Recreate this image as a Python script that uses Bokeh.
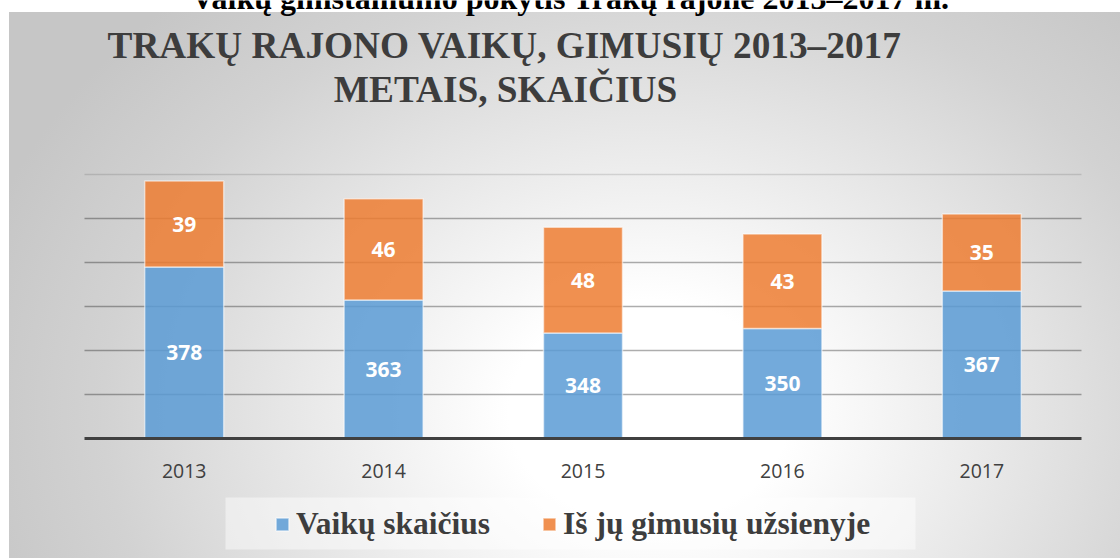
from bokeh.plotting import figure
from bokeh.models import Range1d, ColumnDataSource, Legend, LegendItem
from bokeh.core.properties import value
from bokeh.embed import file_html
from bokeh.resources import INLINE

# ---------------- data ----------------
years = ["2013", "2014", "2015", "2016", "2017"]
children = [378, 363, 348, 350, 367]
born_abroad = [39, 46, 48, 43, 35]
series_names = ["Vaikų skaičius", "Iš jų gimusių užsienyje"]
grid_ticks = [320, 340, 360, 380, 400]
top_tick = 420
y_min = 300

header_text = "Vaikų gimstamumo pokytis Trakų rajone 2013–2017 m."
title_lines = ["TRAKŲ RAJONO VAIKŲ, GIMUSIŲ 2013–2017", "METAIS, SKAIČIUS"]

# ---------------- layout (pixels) ----------------
W, H = 1120, 558
L, R, B, T = 84, 1081, 438, 174
n = len(years)
slot = (R - L) / n
ppu = (B - T) / (top_tick - y_min)

x_start = -0.5 - L / slot
x_end = x_start + W / slot
y_start = y_min - (H - B) / ppu
y_end = y_min + B / ppu


def xv(px):
    return x_start + px / slot


def yv(py):
    return y_min + (B - py) / ppu


BLUE = "#5b9bd5"
ORANGE = "#ed7d31"
TXT = "#3d3d3d"

p = figure(width=W, height=H, x_range=Range1d(x_start, x_end), y_range=Range1d(y_start, y_end),
           output_backend="svg", toolbar_location=None, x_axis_location=None, y_axis_location=None,
           min_border=0, border_fill_color=None, background_fill_color=None, outline_line_color=None)
for g in p.grid:
    g.visible = False

p.styles = {
    "background": "radial-gradient(ellipse 700px 560px at 640px 400px, #ffffff 0%, #ffffff 20%, "
                  "#e8e8e8 50%, #d2d2d2 78%, #c6c6c6 100%) 9px 12px / 1111px 546px no-repeat, #ffffff"
}

idx = list(range(n))
totals = [c + a for c, a in zip(children, born_abroad)]
src = ColumnDataSource(dict(
    x=idx,
    year=years,
    base=[y_min] * n,
    kids=children,
    total=totals,
    kids_mid=[(y_min + c) / 2 for c in children],
    abroad_mid=[c + a / 2 for c, a in zip(children, born_abroad)],
    kids_lbl=[str(v) for v in children],
    abroad_lbl=[str(v) for v in born_abroad],
))

# gridlines
p.segment(x0=-0.5, x1=n - 0.5, y0=grid_ticks, y1=grid_ticks, line_color="#000000", line_alpha=0.32, line_width=1.3)
p.segment(x0=-0.5, x1=n - 0.5, y0=top_tick, y1=top_tick, line_color="#000000", line_alpha=0.12, line_width=1.3)

bw = 79 / slot
blue = p.vbar(x="x", bottom="base", top="kids", width=bw, source=src, fill_color=BLUE, fill_alpha=0.85,
              line_color="#ffffff", line_alpha=0.55, line_width=1.5)
orange = p.vbar(x="x", bottom="kids", top="total", width=bw, source=src, fill_color=ORANGE, fill_alpha=0.85,
                line_color="#ffffff", line_alpha=0.55, line_width=1.5)

# baseline axis
p.segment(x0=-0.5, x1=n - 0.5, y0=y_min, y1=y_min, line_color="#404040", line_width=3)

# data labels
lbl = dict(text_font=value("Open Sans"), text_font_style="bold", text_font_size="21px",
           text_color="#ffffff", text_align="center", text_baseline="middle")
p.text(x="x", y="kids_mid", text="kids_lbl", source=src, **lbl)
p.text(x="x", y="abroad_mid", text="abroad_lbl", source=src, **lbl)

# category labels
p.text(x="x", y=yv(470), text="year", source=src, text_font=value("Open Sans"), text_font_size="19.5px",
       text_color="#404040", text_align="center", text_baseline="middle")

# legend background box
p.quad(left=xv(225), right=xv(915), top=yv(497), bottom=yv(549), fill_color="#ffffff", fill_alpha=0.45,
       line_color=None)

# header (cut at the top) and title
p.text(x=xv(570), y=yv(-2.5), text=[header_text], text_font=value("Liberation Serif"), text_font_style="bold",
       text_font_size="32px", text_color="#000000", text_align="center", text_baseline="middle")
tl = dict(text_font=value("Liberation Serif"), text_font_style="bold", text_font_size="37.3px",
          text_color=TXT, text_align="center", text_baseline="middle")
p.text(x=xv(504), y=yv(45), text=[title_lines[0]], **tl)
p.text(x=xv(505), y=yv(89), text=[title_lines[1]], **tl)

legend = Legend(items=[LegendItem(label=series_names[0], renderers=[blue]),
                       LegendItem(label=series_names[1], renderers=[orange])],
                orientation="horizontal", location=(274, H - 542), glyph_width=16, glyph_height=16,
                label_text_font="Liberation Serif", label_text_font_style="bold", label_text_font_size="31.5px",
                label_text_color=TXT, label_standoff=6, spacing=51, padding=0, margin=0,
                border_line_color=None, background_fill_alpha=0)
p.add_layout(legend)

html = file_html(p, INLINE)
html = html.replace("</head>", "<style>html,body{margin:0;padding:0;}</style></head>", 1)
open("out.html", "w").write(html)
